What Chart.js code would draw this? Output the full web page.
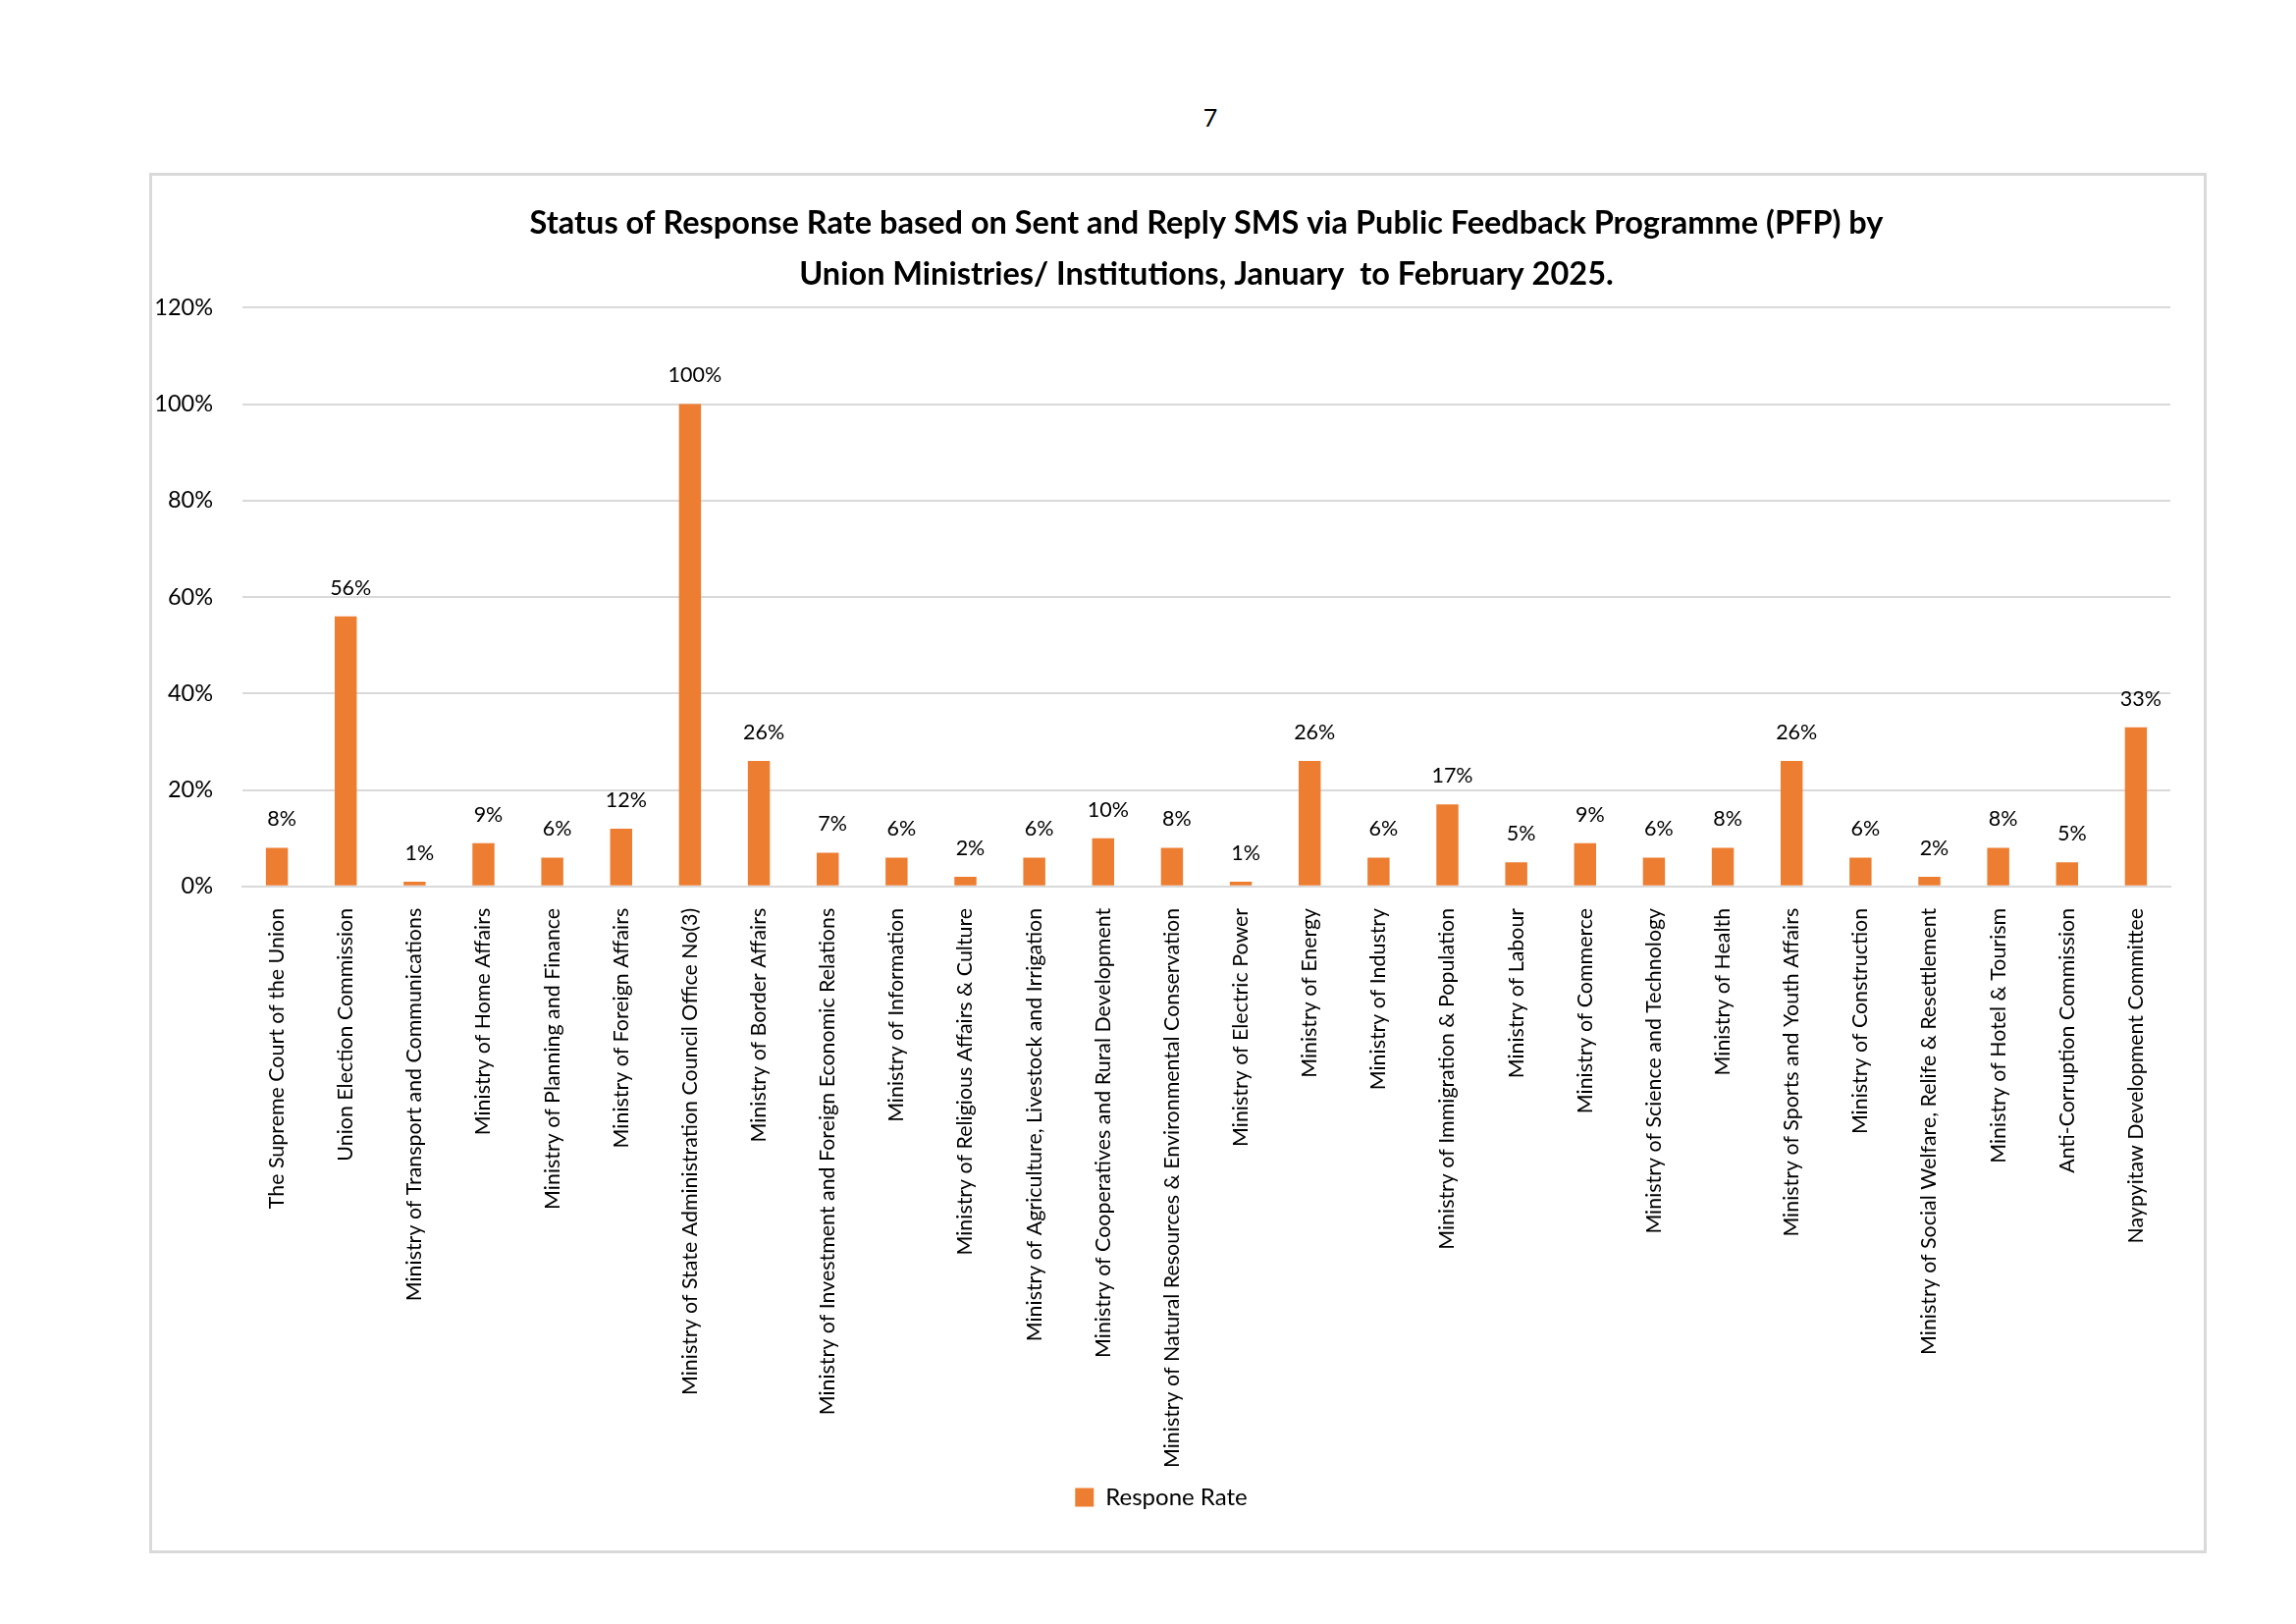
<!DOCTYPE html>
<html>
<head>
<meta charset="utf-8">
<script src="https://cdn.jsdelivr.net/npm/chart.js@4"></script>
<style>
  html, body { margin: 0; padding: 0; background: #fff; }
  body { width: 2339px; height: 1654px; position: relative; overflow: hidden; font-family: Lato, sans-serif; }
  #pageNo { position: absolute; left: 0; width: 2466px; top: 104px; text-align: center; font-size: 25px; color: #000; }
  #box { position: absolute; left: 152px; top: 176px; width: 2090px; height: 1400px; border: 3px solid #d9d9d9; }
  #wrap { position: absolute; left: 0; top: 0; width: 2090px; height: 1400px; }
</style>
</head>
<body>
<div id="pageNo">7</div>
<div id="box"><div id="wrap"><canvas id="rateChart"></canvas></div></div>
<script>
// categorías (ministerios / instituciones)
const ministries = [
  "The Supreme Court of the Union",
  "Union Election Commission",
  "Ministry of Transport and Communications",
  "Ministry of Home Affairs",
  "Ministry of Planning and Finance",
  "Ministry of Foreign Affairs",
  "Ministry of State Administration Council Office No(3)",
  "Ministry of Border Affairs",
  "Ministry of Investment and Foreign Economic Relations",
  "Ministry of Information",
  "Ministry of Religious Affairs & Culture",
  "Ministry of Agriculture, Livestock and Irrigation",
  "Ministry of Cooperatives and Rural Development",
  "Ministry of Natural Resources & Environmental Conservation",
  "Ministry of Electric Power",
  "Ministry of Energy",
  "Ministry of Industry",
  "Ministry of Immigration & Population",
  "Ministry of Labour",
  "Ministry of Commerce",
  "Ministry of Science and Technology",
  "Ministry of Health",
  "Ministry of Sports and Youth Affairs",
  "Ministry of Construction",
  "Ministry of Social Welfare, Relife & Resettlement",
  "Ministry of Hotel & Tourism",
  "Anti-Corruption Commission",
  "Naypyitaw Development Committee"
];

// tasa de respuesta en %
const rates = [8, 56, 1, 9, 6, 12, 100, 26, 7, 6, 2, 6, 10, 8, 1, 26, 6, 17, 5, 9, 6, 8, 26, 6, 2, 8, 5, 33];

// ticks del eje Y
const yTicks = [0, 20, 40, 60, 80, 100, 120];

const titleLines = [
  "Status of Response Rate based on Sent and Reply SMS via Public Feedback Programme (PFP) by",
  "Union Ministries/ Institutions, January  to February 2025."
];

const seriesName = "Respone Rate";
const orange = "#ED7D31";
const gridGray = "#d9d9d9";

// etiquetas de valor encima de cada barra
const valueLabels = {
  id: "valueLabels",
  afterDatasetsDraw(chart) {
    const ctx = chart.ctx;
    const meta = chart.getDatasetMeta(0);
    ctx.save();
    ctx.font = "21.5px Lato";
    ctx.fillStyle = "#000";
    ctx.textAlign = "center";
    ctx.textBaseline = "middle";
    meta.data.forEach((bar, i) => {
      ctx.fillText(rates[i] + "%", bar.x + 5, bar.y - 29);
    });
    ctx.restore();
  }
};

const ctx = document.getElementById("rateChart").getContext("2d");

new Chart(ctx, {
  type: "bar",
  data: {
    labels: ministries,
    datasets: [{
      label: seriesName,
      data: rates,
      backgroundColor: orange,
      barPercentage: 0.32,
      categoryPercentage: 1
    }]
  },
  options: {
    responsive: true,
    maintainAspectRatio: false,
    animation: false,
    devicePixelRatio: 1,
    layout: { padding: { left: 0, right: 34, top: 0, bottom: 32 } },
    plugins: {
      title: {
        display: true,
        fullSize: false, // centrado sobre el área del gráfico
        text: titleLines,
        color: "#000",
        font: { family: "Lato", size: 32.5, weight: "bold", lineHeight: 1.62 },
        padding: { top: 22, bottom: 7 }
      },
      legend: {
        position: "bottom",
        labels: {
          color: "#000",
          font: { family: "Lato", size: 24 },
          boxWidth: 19,
          boxHeight: 19,
          padding: 4
        }
      },
      tooltip: { enabled: false }
    },
    scales: {
      x: {
        grid: { display: false },
        border: { color: gridGray, width: 2 },
        ticks: {
          autoSkip: false,
          minRotation: 90,
          maxRotation: 90,
          padding: 14,
          color: "#000",
          font: { family: "Lato", size: 21.4 }
        }
      },
      y: {
        min: 0,
        max: 120,
        afterBuildTicks: (axis) => { axis.ticks = yTicks.map(v => ({ value: v })); },
        afterFit: (axis) => { axis.width = 92; },
        grid: { color: gridGray, lineWidth: 2, drawTicks: false },
        border: { display: false },
        ticks: {
          padding: 30,
          color: "#000",
          font: { family: "Lato", size: 23.5 },
          callback: (v) => v + "%"
        }
      }
    }
  },
  plugins: [valueLabels]
});
</script>
</body>
</html>
